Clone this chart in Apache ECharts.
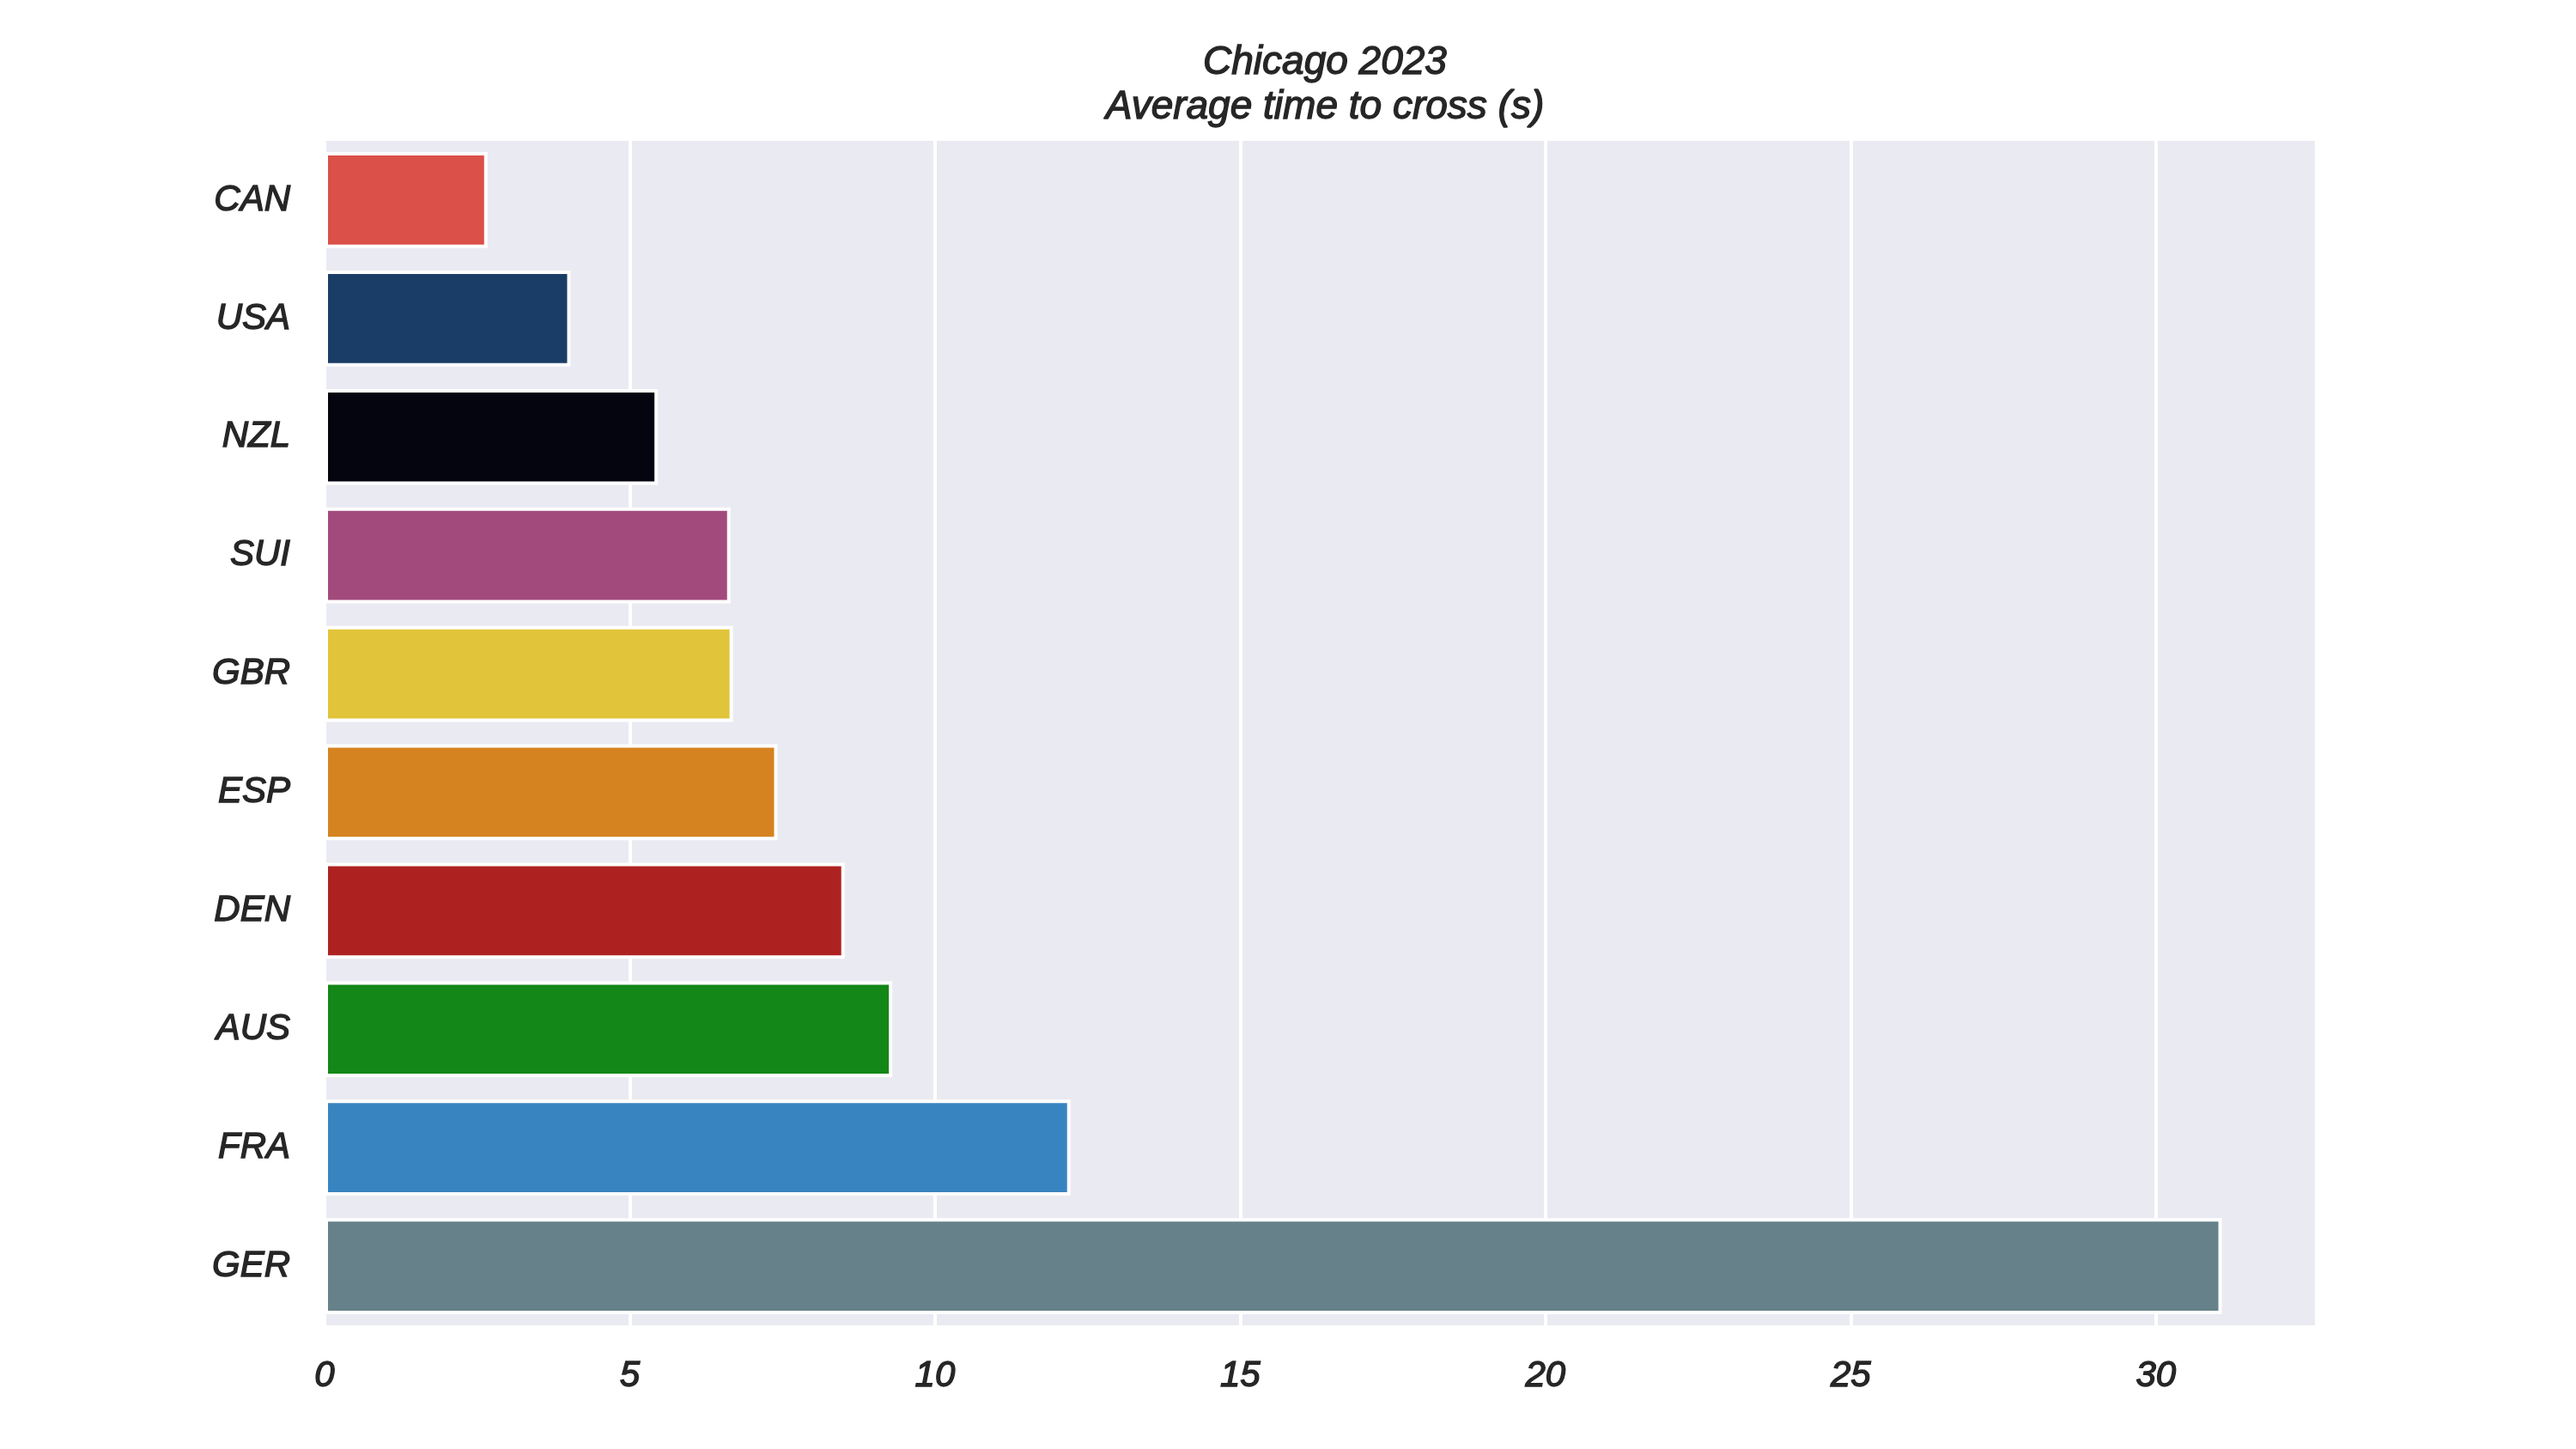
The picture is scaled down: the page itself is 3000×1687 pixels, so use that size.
<!DOCTYPE html>
<html>
<head>
<meta charset="utf-8">
<script src="https://cdn.jsdelivr.net/npm/echarts@6/dist/echarts.min.js"></script>
<style>
html,body{margin:0;padding:0;background:#fff;}
#chart{width:3000px;height:1687px;}
</style>
</head>
<body>
<div id="chart"></div>
<script>
const categories = ['CAN','USA','NZL','SUI','GBR','ESP','DEN','AUS','FRA','GER'];
const values = [2.67, 4.03, 5.46, 6.65, 6.69, 7.42, 8.52, 9.30, 12.22, 31.08];
const barColors = ['#db5048','#1a3d68','#050510','#a34a7c','#e2c43a','#d58320','#ad2220','#138717','#3884c0','#66818a'];
const titleLines = ['Chicago 2023', 'Average time to cross (s)'];

const FONT = '"Liberation Sans", Arial, sans-serif';
const TEXT = '#262626';
const xMax = Math.max(...values) * 1.05;

const chart = echarts.init(document.getElementById('chart'), null, {renderer: 'canvas'});
chart.setOption({
  backgroundColor: '#ffffff',
  animation: false,
  title: {
    text: titleLines.join('\n'),
    left: 1538,
    top: 42,
    textAlign: 'center',
    textStyle: {
      fontFamily: FONT,
      fontStyle: 'italic',
      fontWeight: 'normal',
      fontSize: 46,
      lineHeight: 52,
      color: TEXT,
      textBorderColor: TEXT,
      textBorderWidth: 1.4
    }
  },
  grid: {
    left: 378, right: 302, top: 164, bottom: 144,
    show: true, backgroundColor: '#eaeaf2', borderWidth: 0
  },
  xAxis: {
    type: 'value',
    min: 0,
    max: xMax,
    interval: 5,
    axisLine: {show: false},
    axisTick: {show: false},
    splitLine: {show: true, lineStyle: {color: '#ffffff', width: 4}},
    axisLabel: {
      showMaxLabel: false,
      margin: 38,
      fontFamily: FONT, fontStyle: 'italic', fontSize: 42, color: TEXT,
      textBorderColor: TEXT, textBorderWidth: 1.4
    }
  },
  yAxis: {
    type: 'category',
    data: categories,
    inverse: true,
    axisLine: {show: false},
    axisTick: {show: false},
    splitLine: {show: false},
    axisLabel: {
      margin: 40,
      fontFamily: FONT, fontStyle: 'italic', fontSize: 42, color: TEXT,
      textBorderColor: TEXT, textBorderWidth: 1.4
    }
  },
  series: [{
    type: 'bar',
    barCategoryGap: '19%',
    data: values.map((v, i) => ({
      value: v,
      itemStyle: {color: barColors[i], borderColor: '#ffffff', borderWidth: 4}
    }))
  }]
});
</script>
</body>
</html>
